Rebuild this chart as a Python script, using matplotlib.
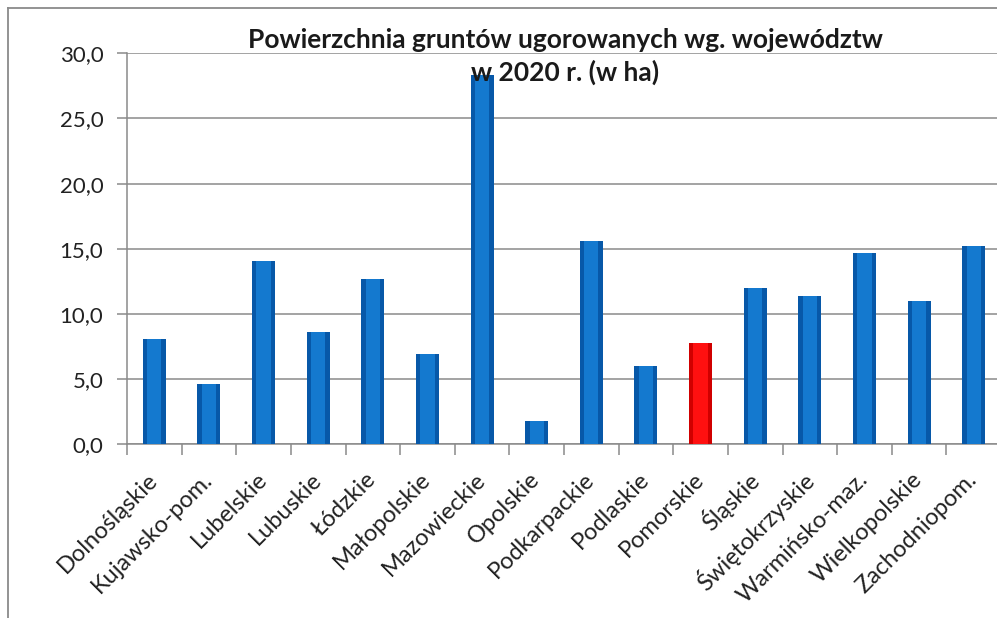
import matplotlib
matplotlib.use("Agg")
import matplotlib.pyplot as plt
from matplotlib.lines import Line2D
from matplotlib.ticker import FuncFormatter

categories = ["Dolnośląskie", "Kujawsko-pom.", "Lubelskie", "Lubuskie", "Łódzkie",
              "Małopolskie", "Mazowieckie", "Opolskie", "Podkarpackie", "Podlaskie",
              "Pomorskie", "Śląskie", "Świętokrzyskie", "Warmińsko-maz.",
              "Wielkopolskie", "Zachodniopom."]
values = [8.1, 4.6, 14.1, 8.6, 12.7, 6.9, 28.3, 1.8, 15.6, 6.0, 7.8, 12.0, 11.4, 14.7, 11.0, 15.2]
highlight = "Pomorskie"
title_lines = ["Powierzchnia gruntów ugorowanych wg. województw", "w 2020 r. (w ha)"]
yticks = [0, 5, 10, 15, 20, 25, 30]

plt.rcParams['font.family'] = ['Lato', 'DejaVu Sans']

W, H = 997, 618
fig = plt.figure(figsize=(W / 100, H / 100), dpi=100)
fig.patch.set_facecolor('white')

left = 127 / W
right = 1001 / W
bottom = 1 - 444.3 / H
top = 1 - 53.3 / H
ax = fig.add_axes([left, bottom, right - left, top - bottom])

x = list(range(len(categories)))
base_cols = ['#D00000' if c == highlight else '#0758A8' for c in categories]
mid_cols = ['#FF1010' if c == highlight else '#1479CF' for c in categories]
ax.bar(x, values, width=0.42, color=base_cols, zorder=3)
ax.bar(x, values, width=0.26, color=mid_cols, zorder=4)

ax.set_xlim(-0.5, len(categories) - 0.5)
ax.set_ylim(0, 30)
ax.set_yticks(yticks)
ax.yaxis.set_major_formatter(FuncFormatter(lambda v, p: f"{v:.1f}".replace('.', ',')))
ax.grid(axis='y', color='#8a8a8a', linewidth=1.1, zorder=0)

ax.set_xticks(x)
ax.set_xticklabels(categories, rotation=45, ha='right', va='center',
                   rotation_mode='anchor', fontsize=17, color='#222222')
ax.set_xticks([i - 0.5 for i in range(len(categories) + 1)], minor=True)
ax.tick_params(axis='x', which='major', length=0, pad=23)
ax.tick_params(axis='x', which='minor', length=8, width=1.1, color='#8a8a8a', direction='out')
ax.tick_params(axis='y', length=7, width=1.1, color='#8a8a8a', labelsize=16,
               labelcolor='#222222', pad=10)

for s in ['top', 'right']:
    ax.spines[s].set_visible(False)
for s in ['left', 'bottom']:
    ax.spines[s].set_color('#8a8a8a')
    ax.spines[s].set_linewidth(1.1)

fig.text(565 / W, 1 - 48 / H, title_lines[0], ha='center', va='baseline', fontsize=19,
         fontweight='bold', color='#1a1a1a', zorder=10)
fig.text(565 / W, 1 - 81 / H, title_lines[1], ha='center', va='baseline', fontsize=19,
         fontweight='bold', color='#1a1a1a', zorder=10)

# outer chart border
fig.add_artist(Line2D([8 / W, 1.0], [1 - 8 / H, 1 - 8 / H], color='#8a8a8a', linewidth=1.3,
                      transform=fig.transFigure))
fig.add_artist(Line2D([8 / W, 8 / W], [0, 1 - 8 / H], color='#8a8a8a', linewidth=1.3,
                      transform=fig.transFigure))

fig.savefig("out.png", dpi=100)
